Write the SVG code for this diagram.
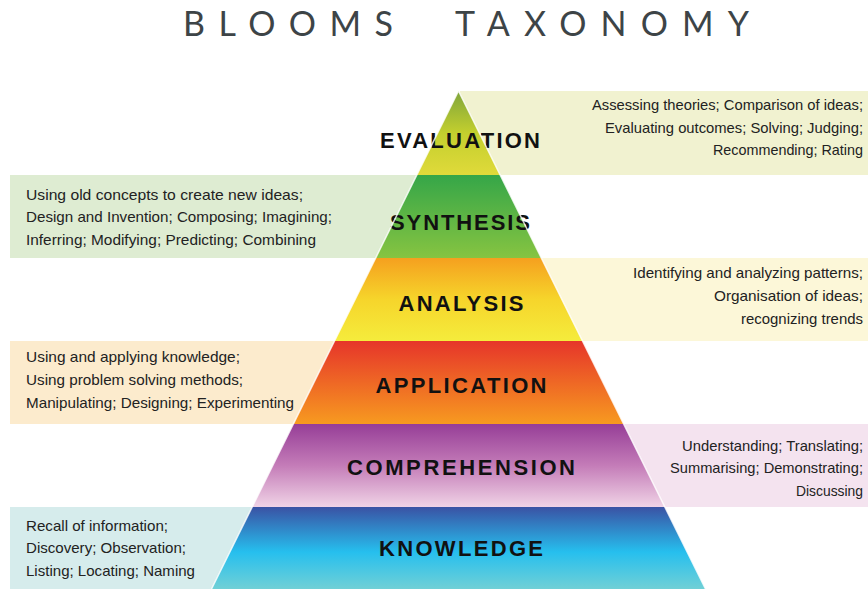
<svg xmlns="http://www.w3.org/2000/svg" width="868" height="589" viewBox="0 0 868 589">
<defs>
<linearGradient id="gEval" x1="0" y1="0" x2="0" y2="1"><stop offset="0" stop-color="#7fa53b"/><stop offset="0.5" stop-color="#c3cf2e"/><stop offset="1" stop-color="#e0da3a"/></linearGradient>
<linearGradient id="gSyn" x1="0" y1="0" x2="0" y2="1"><stop offset="0" stop-color="#35a648"/><stop offset="1" stop-color="#86c441"/></linearGradient>
<linearGradient id="gAna" x1="0" y1="0" x2="0" y2="1"><stop offset="0" stop-color="#f5a01f"/><stop offset="0.5" stop-color="#f6d52b"/><stop offset="1" stop-color="#f5ec3c"/></linearGradient>
<linearGradient id="gApp" x1="0" y1="0" x2="0" y2="1"><stop offset="0" stop-color="#e6352a"/><stop offset="1" stop-color="#f79a20"/></linearGradient>
<linearGradient id="gCom" x1="0" y1="0" x2="0" y2="1"><stop offset="0" stop-color="#963e97"/><stop offset="0.5" stop-color="#c47cb8"/><stop offset="1" stop-color="#f0d3e6"/></linearGradient>
<linearGradient id="gKno" x1="0" y1="0" x2="0" y2="1"><stop offset="0" stop-color="#3a52a4"/><stop offset="0.55" stop-color="#26bfee"/><stop offset="1" stop-color="#70d0d6"/></linearGradient>
</defs>
<style>
.title{font-family:"Lato","Liberation Sans",sans-serif;font-weight:400;font-size:34px;fill:#3d4447}
.lbl{font-family:"Liberation Sans",Arial,sans-serif;font-weight:700;font-size:22px;fill:#111;text-anchor:middle}
.desc{font-family:"Liberation Sans",Arial,sans-serif;font-size:15px;fill:#222}
.r{text-anchor:end}
</style>
<rect width="868" height="589" fill="#ffffff"/>
<g id="title">
<text class="title" x="183" y="36" textLength="210" lengthAdjust="spacing">BLOOMS</text>
<text class="title" x="455" y="36" textLength="294" lengthAdjust="spacing">TAXONOMY</text>
</g>
<g id="evaluation">
<rect x="460" y="91" width="408" height="84" fill="#f1f2d0"/>
<polygon points="458.5,91 500.2,175 416.8,175" fill="url(#gEval)"/>
<text class="lbl" x="460" y="148" textLength="160" lengthAdjust="spacing">EVALUATION</text>
<text class="desc r" x="863" y="110" textLength="271" lengthAdjust="spacingAndGlyphs">Assessing theories; Comparison of ideas;</text>
<text class="desc r" x="863" y="133" textLength="258" lengthAdjust="spacingAndGlyphs">Evaluating outcomes; Solving; Judging;</text>
<text class="desc r" x="863" y="155" textLength="150" lengthAdjust="spacingAndGlyphs">Recommending; Rating</text>
</g>
<g id="synthesis">
<rect x="10" y="175" width="450" height="83" fill="#deecd2"/>
<polygon points="416.8,175 500.2,175 541.3,258 375.7,258" fill="url(#gSyn)"/>
<text class="lbl" x="460" y="230" textLength="140" lengthAdjust="spacing">SYNTHESIS</text>
<text class="desc" x="26" y="200" textLength="277" lengthAdjust="spacingAndGlyphs">Using old concepts to create new ideas;</text>
<text class="desc" x="26" y="222" textLength="306" lengthAdjust="spacingAndGlyphs">Design and Invention; Composing; Imagining;</text>
<text class="desc" x="26" y="245" textLength="290" lengthAdjust="spacingAndGlyphs">Inferring; Modifying; Predicting; Combining</text>
</g>
<g id="analysis">
<rect x="460" y="258" width="408" height="83" fill="#fcf7d8"/>
<polygon points="375.7,258 541.3,258 582.5,341 334.5,341" fill="url(#gAna)"/>
<text class="lbl" x="461" y="311" textLength="125" lengthAdjust="spacing">ANALYSIS</text>
<text class="desc r" x="863" y="278" textLength="230" lengthAdjust="spacingAndGlyphs">Identifying and analyzing patterns;</text>
<text class="desc r" x="863" y="301" textLength="149" lengthAdjust="spacingAndGlyphs">Organisation of ideas;</text>
<text class="desc r" x="863" y="324" textLength="122" lengthAdjust="spacingAndGlyphs">recognizing trends</text>
</g>
<g id="application">
<rect x="10" y="341" width="450" height="83" fill="#fcebcd"/>
<polygon points="334.5,341 582.5,341 623.7,424 293.3,424" fill="url(#gApp)"/>
<text class="lbl" x="461" y="393" textLength="171" lengthAdjust="spacing">APPLICATION</text>
<text class="desc" x="26" y="362" textLength="214" lengthAdjust="spacingAndGlyphs">Using and applying knowledge;</text>
<text class="desc" x="26" y="385" textLength="217" lengthAdjust="spacingAndGlyphs">Using problem solving methods;</text>
<text class="desc" x="26" y="408" textLength="268" lengthAdjust="spacingAndGlyphs">Manipulating; Designing; Experimenting</text>
</g>
<g id="comprehension">
<rect x="460" y="424" width="408" height="83" fill="#f4e3ef"/>
<polygon points="293.3,424 623.7,424 664.8,507 252.2,507" fill="url(#gCom)"/>
<text class="lbl" x="461" y="475" textLength="228" lengthAdjust="spacing">COMPREHENSION</text>
<text class="desc r" x="863" y="451" textLength="181" lengthAdjust="spacingAndGlyphs">Understanding; Translating;</text>
<text class="desc r" x="863" y="473" textLength="193" lengthAdjust="spacingAndGlyphs">Summarising; Demonstrating;</text>
<text class="desc r" x="863" y="496" textLength="67" lengthAdjust="spacingAndGlyphs">Discussing</text>
</g>
<g id="knowledge">
<rect x="10" y="507" width="450" height="82" fill="#d6ecec"/>
<polygon points="252.2,507 664.8,507 705.5,589 211.5,589" fill="url(#gKno)"/>
<text class="lbl" x="461" y="556" textLength="164" lengthAdjust="spacing">KNOWLEDGE</text>
<text class="desc" x="26" y="531" textLength="142" lengthAdjust="spacingAndGlyphs">Recall of information;</text>
<text class="desc" x="26" y="553" textLength="160" lengthAdjust="spacingAndGlyphs">Discovery; Observation;</text>
<text class="desc" x="26" y="576" textLength="169" lengthAdjust="spacingAndGlyphs">Listing; Locating; Naming</text>
</g>
<g id="pyramid-edge">
<polyline points="211.5,589 458.5,91 705.5,589" fill="none" stroke="#ffffff" stroke-width="1.5" stroke-opacity="0.8"/>
</g>
</svg>
